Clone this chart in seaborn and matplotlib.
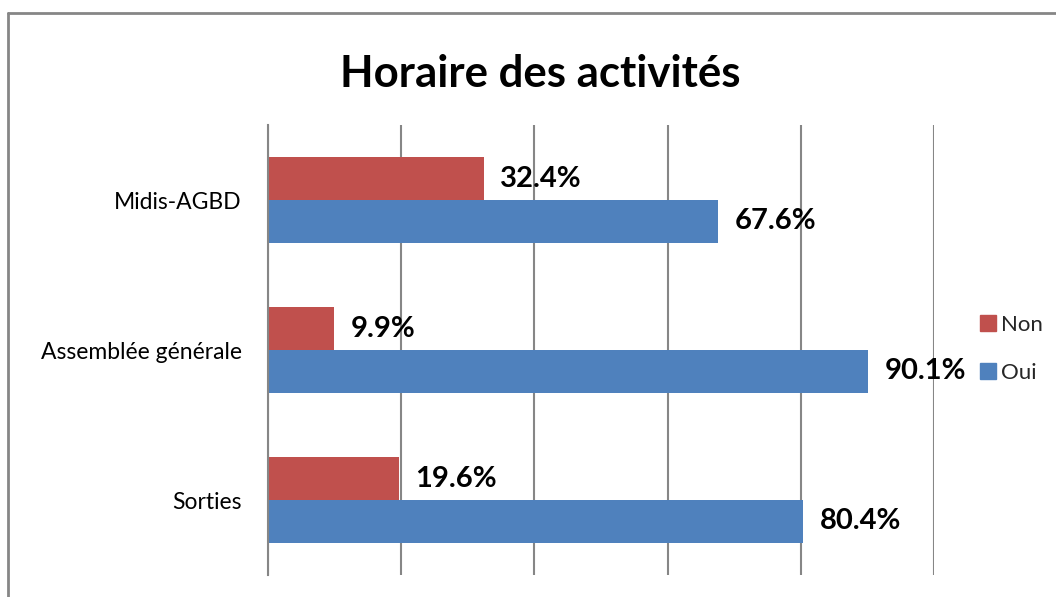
import matplotlib
matplotlib.use("Agg")
import matplotlib.pyplot as plt
from matplotlib.lines import Line2D
import seaborn as sns
import pandas as pd

categories = ["Midis-AGBD", "Assemblée générale", "Sorties"]
series = ["Non", "Oui"]
non_values = [32.4, 9.9, 19.6]
oui_values = [67.6, 90.1, 80.4]
colors = {"Non": "#C0504D", "Oui": "#4F81BD"}

rows = []
for c, n, o in zip(categories, non_values, oui_values):
    rows.append({"cat": c, "serie": "Non", "val": n})
    rows.append({"cat": c, "serie": "Oui", "val": o})
df = pd.DataFrame(rows)

sns.set_theme(style="white")
plt.rcParams["font.family"] = ["Lato", "DejaVu Sans"]

fig = plt.figure(figsize=(10.56, 5.97), dpi=100)
ax = fig.add_axes([268/1056, 1-575/597, (934-268)/1056, (575-125)/597])

sns.barplot(data=df, y="cat", x="val", hue="serie", order=categories,
            hue_order=series, palette=colors, orient="h", width=0.573,
            errorbar=None, ax=ax, legend=False, saturation=1, linewidth=0)

ax.set_xlim(0, 100)
ax.set_ylim(2.5, -0.5)
ax.set_xticks([0, 20, 40, 60, 80, 100])
ax.set_xticklabels([])
ax.xaxis.grid(True, color="#868686", linewidth=1.5)
ax.yaxis.grid(False)
ax.set_axisbelow(True)
for s in ["top", "right", "bottom"]:
    ax.spines[s].set_visible(False)
ax.spines["left"].set_color("#868686")
ax.spines["left"].set_linewidth(1.5)
ax.tick_params(axis="y", length=0, pad=19, labelsize=16.5)
ax.tick_params(axis="x", length=0)
ax.set_xlabel("")
ax.set_ylabel("")
for lab in ax.get_yticklabels():
    lab.set_color("black")

for cont in ax.containers:
    ax.bar_label(cont, labels=[f"{v:.1f}%" for v in cont.datavalues],
                 padding=12, fontsize=21, fontweight="bold", color="black")

fig.text(540/1056, 1-74/597, "Horaire des activités", ha="center", va="center",
         fontsize=31.5, fontweight="bold", color="black")

handles = [Line2D([], [], marker="s", linestyle="none", markersize=11,
                  markerfacecolor=colors[s], markeredgecolor=colors[s]) for s in series]
fig.legend(handles, series, loc="center left", bbox_to_anchor=(968/1056, 1-349/597),
           frameon=False, fontsize=16, handletextpad=0.1, labelspacing=1.25,
           handlelength=1.0, borderaxespad=0)

fig.add_artist(Line2D([7.5/1056, 7.5/1056], [0, 1-13/597], transform=fig.transFigure,
                      color="#868686", linewidth=2))
fig.add_artist(Line2D([7.5/1056, 1], [1-13/597, 1-13/597], transform=fig.transFigure,
                      color="#868686", linewidth=2))

fig.savefig("out.png", dpi=100, facecolor="white")
